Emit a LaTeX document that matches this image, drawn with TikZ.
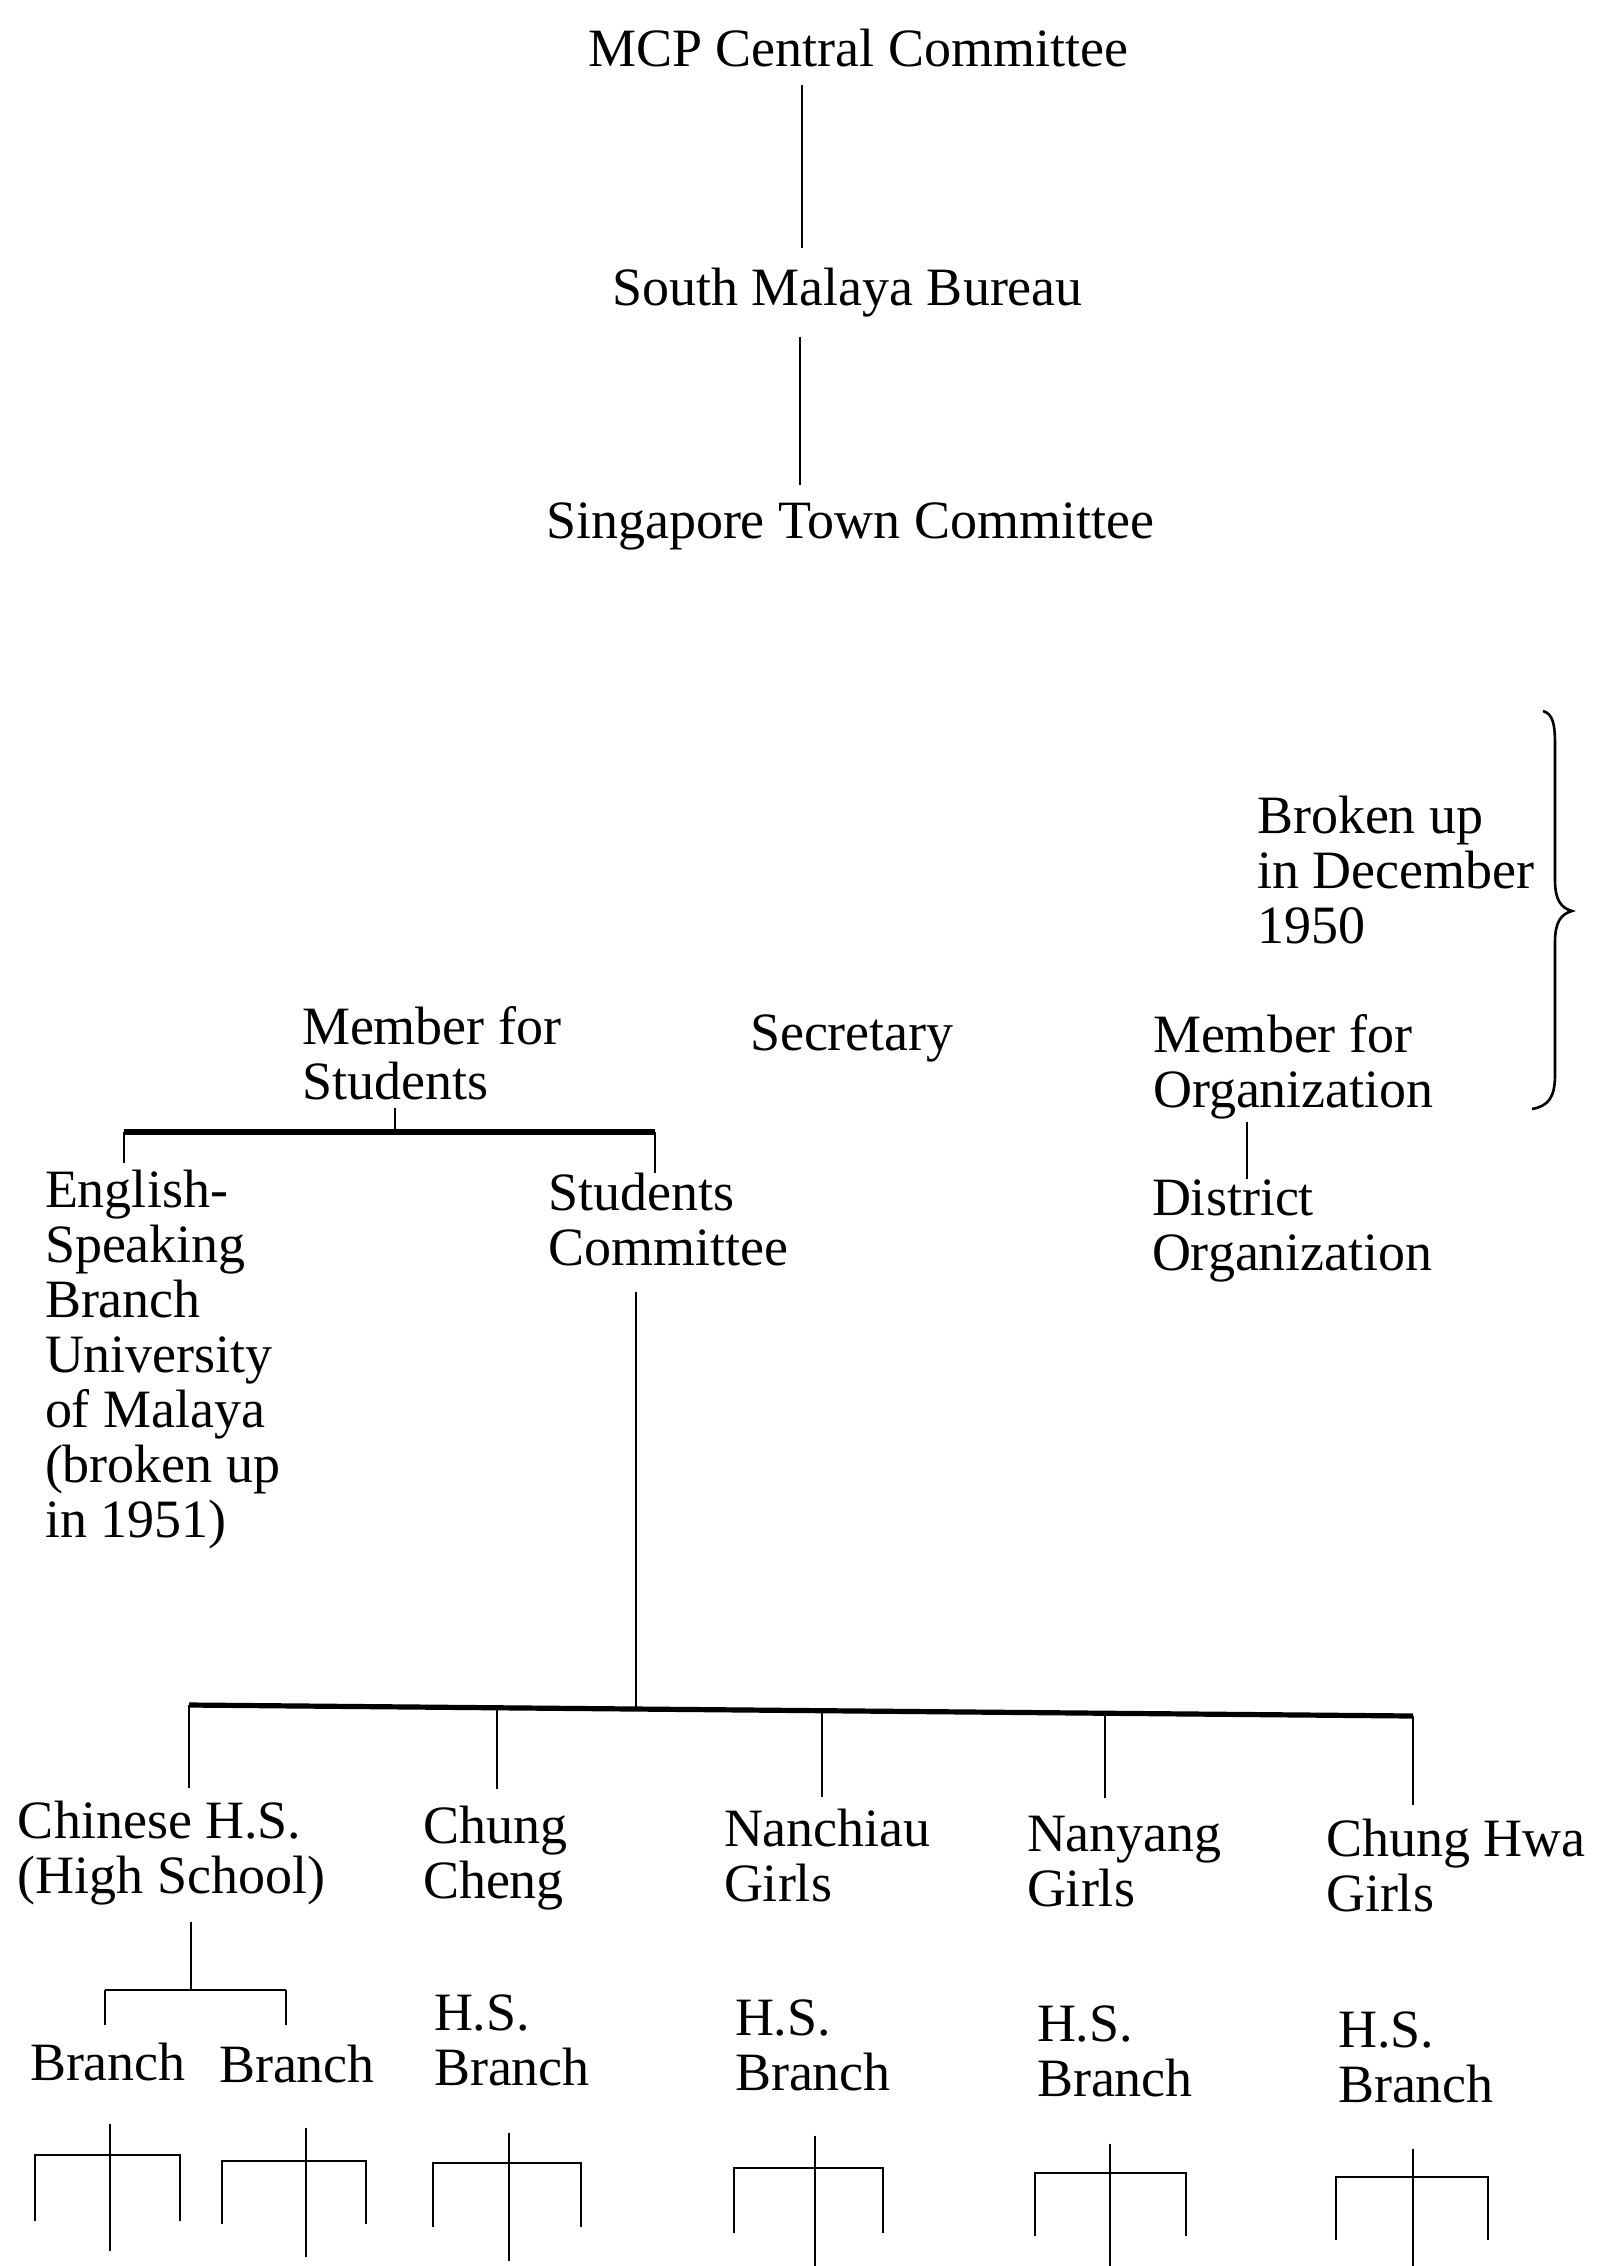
\documentclass[tikz,border=0pt]{standalone}
\usepackage{fontspec}
\setmainfont{Liberation Serif}
\begin{document}
\begin{tikzpicture}[x=0.5pt,y=-0.5pt,
  lbl/.style={font=\fontsize{27pt}{27.5pt}\selectfont, inner sep=0pt, outer sep=0pt, anchor=base west, align=left},
  conn/.style={line width=1.4pt},
  heavy/.style={line width=2.6pt},
  forkline/.style={line width=1.1pt},
  bracestyle/.style={line width=1.3pt}]
\fill[white] (0,0) rectangle (1598,2266);
\useasboundingbox (0,0) rectangle (1598,2266);

% nodes (anchor = baseline of the last line)
\node[lbl] (mcp) at (588,66) {MCP Central Committee};
\node[lbl] (smb) at (612,305) {South Malaya Bureau};
\node[lbl] (stc) at (546,538) {Singapore Town Committee};
\node[lbl] (brk) at (1257,943) {Broken up\\in December\\1950};
\node[lbl] (mfs) at (302,1099) {Member for\\Students};
\node[lbl] (sec) at (750,1050) {Secretary};
\node[lbl] (mfo) at (1153,1107) {Member for\\Organization};
\node[lbl] (dst) at (1152,1270) {District\\Organization};
\node[lbl] (esb) at (45,1537) {English-\\Speaking\\Branch\\University\\of Malaya\\(broken up\\in 1951)};
\node[lbl] (sc) at (548,1265) {Students\\Committee};
\node[lbl] (chs) at (18,1893) {Chinese H.S.\\(High School)};
\node[lbl] (cc) at (423,1898) {Chung\\Cheng};
\node[lbl] (ng) at (724,1901) {Nanchiau\\Girls};
\node[lbl] (nyg) at (1027,1906) {Nanyang\\Girls};
\node[lbl] (chg) at (1326,1911) {Chung Hwa\\Girls};
\node[lbl] (br1) at (30,2080) {Branch};
\node[lbl] (br2) at (219,2082) {Branch};
\node[lbl] (hs1) at (434,2085) {H.S.\\Branch};
\node[lbl] (hs2) at (735,2090) {H.S.\\Branch};
\node[lbl] (hs3) at (1037,2096) {H.S.\\Branch};
\node[lbl] (hs4) at (1338,2102) {H.S.\\Branch};

% top chain
\coordinate (x1) at (802,0);
\coordinate (x2) at (800,0);
\draw[conn, shorten <=9pt, shorten >=10pt] (mcp.south -| x1) -- (smb.north -| x1);
\draw[conn, shorten <=10pt, shorten >=8.5pt] (smb.south -| x2) -- (stc.north -| x2);

% member for students bracket
\coordinate (sj) at (395,1132);
\coordinate (lj) at (124,1132);
\coordinate (rj) at (655,1132);
\draw[conn, shorten <=4pt] (mfs.south -| sj) -- (sj);
\draw[heavy] (lj) -- (rj);
\draw[conn, shorten >=3.5pt] (lj) -- (esb.north -| lj);
\draw[conn] (rj) -- (sc.north -| rj);

% organization
\coordinate (ox) at (1247,0);
\draw[conn, shorten <=1.5pt] (mfo.south -| ox) -- (dst.north -| ox);

% students committee to schools
\coordinate (jm) at (636,1709);
\coordinate (j1) at (189,1705);
\coordinate (j2) at (497,1708);
\coordinate (j3) at (822,1711);
\coordinate (j4) at (1105,1713);
\coordinate (j5) at (1413,1716);
\draw[conn, shorten <=13pt] (sc.south -| jm) -- (jm);
\draw[heavy] (j1) -- (j5);
\draw[conn, shorten >=6.5pt] (j1) -- (chs.north -| j1);
\draw[conn, shorten >=8.5pt] (j2) -- (cc.north -| j2);
\draw[conn, shorten >=6pt] (j3) -- (ng.north -| j3);
\draw[conn, shorten >=9pt] (j4) -- (nyg.north -| j4);
\draw[conn, shorten >=7pt] (j5) -- (chg.north -| j5);

% Chinese H.S. branches
\coordinate (cj) at (191,1990);
\coordinate (cl) at (105,1990);
\coordinate (cr) at (286,1990);
\draw[conn, shorten <=8.5pt] (chs.south -| cj) -- (cj);
\draw[conn] (cl) -- (cr);
\draw[conn, shorten >=9pt] (cl) -- (br1.north -| cl);
\draw[conn, shorten >=10pt] (cr) -- (br2.north -| cr);

% forks below branches
\foreach \s/\gp/\l/\c/\r/\y/\g/\b in {
  br1/21.5pt/35/110/180/2155/2221/2251,
  br2/22.5pt/222/306/366/2161/2224/2257,
  hs1/23.5pt/433/509/581/2163/2227/2261,
  hs2/22.5pt/734/815/883/2168/2233/2266,
  hs3/23.5pt/1035/1110/1186/2173/2236/2266,
  hs4/23pt/1336/1413/1488/2177/2240/2266}{
  \coordinate (fk) at (\c,\y);
  \draw[forkline, shorten <=\gp] (\s.south -| fk) -- (\c,\b);
  \draw[forkline] (\l,\g) -- (\l,\y) -- (\r,\y) -- (\r,\g);
}

% brace
\coordinate (bt) at (1543,711);
\coordinate (bm) at (1572,911);
\coordinate (bb) at (1532,1109);
\draw[bracestyle] (bt) .. controls (1553,714) and (1555,724) .. (1555,745) -- (1555,880)
  .. controls (1555,900) and (1561,908) .. (bm)
  .. controls (1561,914) and (1555,922) .. (1555,942) -- (1555,1075)
  .. controls (1555,1098) and (1548,1106) .. (bb);
\end{tikzpicture}
\end{document}
